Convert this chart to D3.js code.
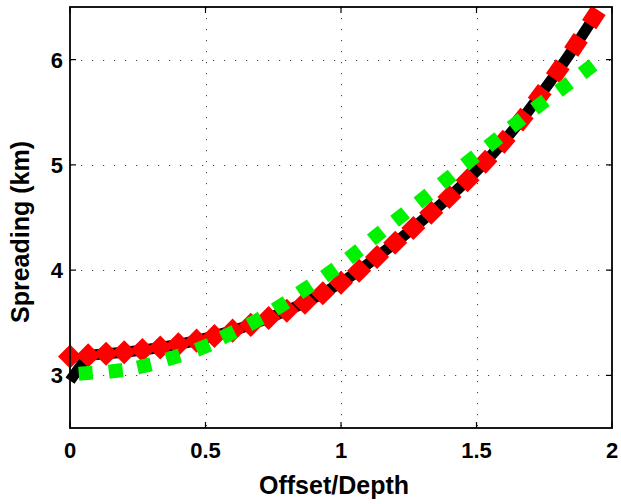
<!DOCTYPE html>
<html><head><meta charset="utf-8">
<script src="https://cdn.jsdelivr.net/npm/d3@7"></script>
<style>
body{margin:0;background:#fff}
text{font-family:"Liberation Sans",Arial,Helvetica,sans-serif;font-weight:bold;fill:#000}
</style>
</head><body>
<svg id="c" width="621" height="504"></svg>
<script>
const xTicks=[0,0.5,1,1.5,2];
const xTickLabels=["0","0.5","1","1.5","2"];
const yTicks=[3,4,5,6];
const yTickLabels=["3","4","5","6"];
const xLabel="Offset/Depth";
const yLabel="Spreading (km)";

const blackX=[0,0.067,0.133,0.2,0.267,0.333,0.4,0.467,0.533,0.6,0.667,0.733,0.8,0.867,0.933,1.0,1.067,1.133,1.2,1.267,1.333,1.4,1.467,1.533,1.6,1.667,1.733,1.8,1.867,1.933];
const blackY=[2.95,3.19,3.205,3.22,3.24,3.265,3.295,3.33,3.375,3.425,3.48,3.545,3.615,3.69,3.78,3.88,3.995,4.125,4.26,4.40,4.545,4.695,4.855,5.03,5.22,5.43,5.655,5.89,6.14,6.40];

const redX=[0,0.067,0.133,0.2,0.267,0.333,0.4,0.467,0.533,0.6,0.667,0.733,0.8,0.867,0.933,1.0,1.067,1.133,1.2,1.267,1.333,1.4,1.467,1.533,1.6,1.667,1.733,1.8,1.867,1.933];
const redY=[3.18,3.19,3.205,3.22,3.24,3.265,3.295,3.33,3.375,3.425,3.48,3.545,3.615,3.69,3.78,3.88,3.995,4.125,4.26,4.40,4.545,4.695,4.855,5.03,5.22,5.43,5.655,5.89,6.14,6.40];

const greenX=[0.058,0.169,0.274,0.381,0.491,0.584,0.683,0.777,0.867,0.959,1.048,1.132,1.218,1.304,1.390,1.476,1.562,1.648,1.734,1.823,1.910];
const greenY=[3.021,3.043,3.090,3.169,3.266,3.386,3.513,3.660,3.819,3.977,4.152,4.329,4.505,4.680,4.861,5.043,5.217,5.398,5.573,5.741,5.910];

const svg=d3.select("#c");
const x=d3.scaleLinear().domain([0,2]).range([70,612]);
const y=d3.scaleLinear().domain([2.5,6.5]).range([428,7]);

svg.append("rect").attr("width",621).attr("height",504).attr("fill","#fff");

// grid
const grid=svg.append("g").attr("stroke","#444").attr("stroke-width",1).attr("stroke-dasharray","1.2,9.8");
grid.selectAll("line.gx").data(xTicks.filter(t=>t>0&&t<2)).enter().append("line")
  .attr("x1",d=>Math.round(x(d))+0.5).attr("x2",d=>Math.round(x(d))+0.5).attr("y1",y(6.5)).attr("y2",y(2.5));
grid.selectAll("line.gy").data(yTicks).enter().append("line")
  .attr("y1",d=>Math.round(y(d))+0.5).attr("y2",d=>Math.round(y(d))+0.5).attr("x1",x(0)).attr("x2",x(2));

function toPix(xs,ys){return xs.map((v,i)=>[x(v),y(ys[i])]);}
function angles(p){
  return p.map((q,i)=>{
    const a=p[Math.max(0,i-1)], b=p[Math.min(p.length-1,i+1)];
    return Math.atan2(-(b[1]-a[1]), b[0]-a[0])*180/Math.PI;
  });
}

// black line
const bp=toPix(blackX,blackY);
svg.append("path").attr("d",d3.line()(bp)).attr("fill","none").attr("stroke","#000")
  .attr("stroke-width",11).attr("stroke-linejoin","round");

// red markers
const rp=toPix(redX,redY);
const ra=angles(rp);
const rs=17;
svg.append("g").selectAll("rect").data(rp).enter().append("rect")
  .attr("x",-rs/2).attr("y",-rs/2).attr("width",rs).attr("height",rs).attr("fill","#ff0000")
  .attr("transform",(d,i)=>`translate(${d[0]},${d[1]}) rotate(${-Math.max(ra[i],45)})`);

// green markers
const gp=toPix(greenX,greenY);
const ga=angles(gp);
const gs=14;
svg.append("g").selectAll("rect").data(gp).enter().append("rect")
  .attr("x",-gs/2).attr("y",-gs/2).attr("width",gs).attr("height",gs).attr("fill","#00f200")
  .attr("transform",(d,i)=>`translate(${d[0]},${d[1]}) rotate(${-ga[i]})`);

// box
svg.append("rect").attr("x",x(0)).attr("y",y(6.5)).attr("width",x(2)-x(0)).attr("height",y(2.5)-y(6.5))
  .attr("fill","none").attr("stroke","#000").attr("stroke-width",1.8);

// ticks inward on all sides
const tk=svg.append("g").attr("stroke","#000").attr("stroke-width",1.2);
xTicks.forEach(t=>{
  tk.append("line").attr("x1",x(t)).attr("x2",x(t)).attr("y1",y(2.5)).attr("y2",y(2.5)-6);
  tk.append("line").attr("x1",x(t)).attr("x2",x(t)).attr("y1",y(6.5)).attr("y2",y(6.5)+6);
});
yTicks.forEach(t=>{
  tk.append("line").attr("y1",y(t)).attr("y2",y(t)).attr("x1",x(0)).attr("x2",x(0)+6);
  tk.append("line").attr("y1",y(t)).attr("y2",y(t)).attr("x1",x(2)).attr("x2",x(2)-6);
});

// tick labels
svg.append("g").selectAll("text").data(xTicks).enter().append("text")
  .attr("x",d=>x(d)).attr("y",458).attr("text-anchor","middle").attr("font-size",22)
  .text((d,i)=>xTickLabels[i]);
svg.append("g").selectAll("text").data(yTicks).enter().append("text")
  .attr("x",63).attr("y",d=>y(d)+8).attr("text-anchor","end").attr("font-size",22)
  .text((d,i)=>yTickLabels[i]);

// axis labels
svg.append("text").attr("x",334).attr("y",494).attr("text-anchor","middle").attr("font-size",25).text(xLabel);
svg.append("text").attr("transform","translate(29,232) rotate(-90)").attr("text-anchor","middle").attr("font-size",25).text(yLabel);
</script>
</body></html>
